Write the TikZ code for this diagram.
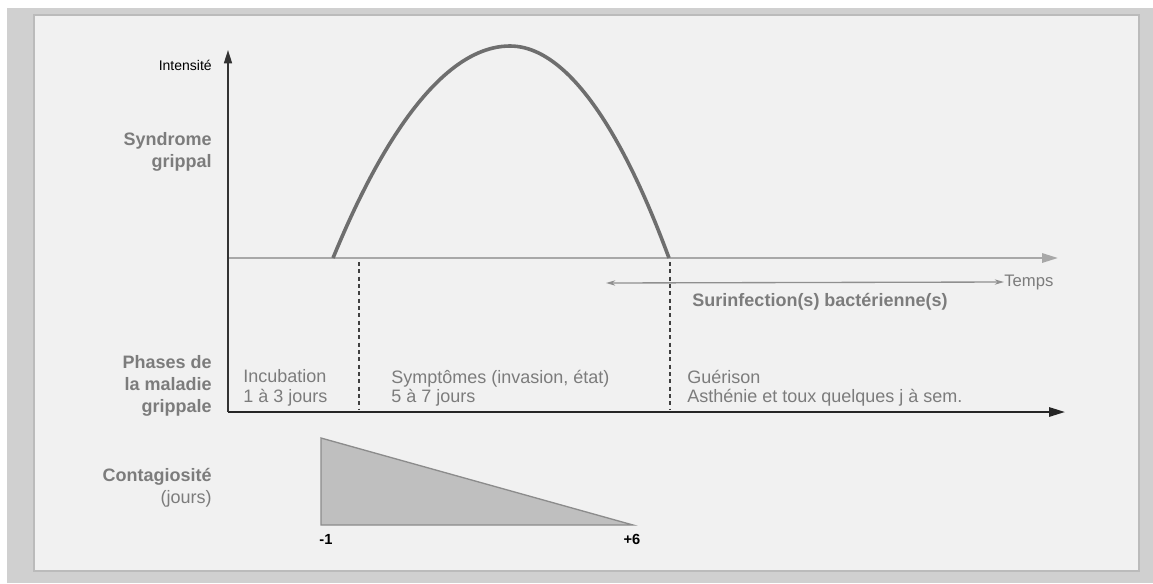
\documentclass[tikz,border=0pt]{standalone}
\usepackage{fontspec}
\setmainfont{Liberation Sans}
\usetikzlibrary{arrows.meta}

\definecolor{PanelGrey}{HTML}{F1F1F1}
\definecolor{FrameGrey}{HTML}{D0D0D0}
\definecolor{EdgeGrey}{HTML}{BBBBBB}
\definecolor{LabelGrey}{HTML}{7C7C7C}
\definecolor{CurveGrey}{HTML}{6E6E6E}
\definecolor{AxisGrey}{HTML}{A8A8A8}

\begin{document}
\begin{tikzpicture}[x=0.75pt, y=-0.75pt,
    sidelabel/.style={anchor=east, align=right, inner sep=0pt, text=LabelGrey, font=\fontsize{13.5}{16.5}\selectfont\bfseries},
    phasetext/.style={anchor=west, align=left, inner sep=0pt, text=LabelGrey, font=\fontsize{13.5}{14.6}\selectfont},
    phasesep/.style={dash pattern=on 3pt off 2.5pt, line width=0.8pt, black!75},
    ticklabel/.style={inner sep=0pt, font=\fontsize{11}{12}\selectfont\bfseries}]
    % Frame and panel
    \fill[white] (0,0) rectangle (1153,583);
    \fill[FrameGrey] (7,8) rectangle (1153,583);
    \draw[EdgeGrey, line width=2pt, fill=PanelGrey] (34,15) rectangle (1139,571);

    % Axes
    \coordinate (top) at (228,50);
    \coordinate (o) at (228,258);
    \coordinate (tend) at (1058,258);
    \coordinate (low) at (228,412);
    \coordinate (lend) at (1065,412);
    \draw[AxisGrey, line width=1.6pt, -{Triangle[length=12pt, width=7pt]}] (o) -- (tend);
    \draw[black!85, line width=1.5pt, -{Triangle[length=12pt, width=7pt]}] (low) -- (lend);
    \draw[black!80, line width=1.2pt, -{Triangle[length=10pt, width=6pt]}] (low) -- (top);

    % Flu syndrome curve
    \coordinate (start) at (333,258);
    \coordinate (peak) at (510,46);
    \coordinate (stop) at (669,258);
    \draw[CurveGrey, line width=2.7pt] (start) parabola bend (peak) (stop);

    % Phase separators
    \coordinate (s1t) at (359,262);
    \coordinate (s1b) at (359,410);
    \coordinate (s2t) at (670,262);
    \coordinate (s2b) at (670,410);
    \draw[phasesep] (s1t) -- (s1b);
    \draw[phasesep] (s2t) -- (s2b);

    % Bacterial superinfection
    \node[inner sep=0pt, text=LabelGrey, font=\fontsize{12.5}{14}\selectfont, anchor=west] (temps) at (1004,282) {Temps};
    \coordinate (sbeg) at (606,283);
    \draw[AxisGrey!85!black, line width=1pt, {Stealth[length=7pt, width=4pt]}-{Stealth[length=7pt, width=4pt]}] (sbeg) -- (temps.west);
    \node[inner sep=0pt, text=LabelGrey, font=\fontsize{13.5}{16}\selectfont\bfseries] (surinf) at (820,302) {Surinfection(s) bactérienne(s)};

    % Left labels
    \node[inner sep=0pt, anchor=east, font=\fontsize{10.5}{12}\selectfont] (intens) at (212,65) {Intensité};
    \node[sidelabel] (syndr) at (212,152) {Syndrome\\grippal};
    \node[sidelabel] (phases) at (212,386) {Phases de\\la maladie\\grippale};
    \node[sidelabel] (contag) at (212,488) {Contagiosité\\{\mdseries(jours)}};

    % Phases
    \node[phasetext] (incub) at (243,388) {Incubation\\1 à 3 jours};
    \node[phasetext] (sympt) at (391,388) {Symptômes (invasion, état)\\5 à 7 jours};
    \node[phasetext] (gueri) at (687,388) {Guérison\\Asthénie et toux quelques j à sem.};

    % Contagiousness triangle
    \coordinate (ctop) at (321,438);
    \coordinate (cleft) at (321,525);
    \coordinate (cright) at (633,525);
    \draw[black!45, line width=1pt, fill=black!25] (ctop) -- (cright) -- (cleft) -- cycle;
    \node[ticklabel] (dm1) at (326,539) {-1};
    \node[ticklabel] (dp6) at (632,539) {+6};
\end{tikzpicture}
\end{document}
